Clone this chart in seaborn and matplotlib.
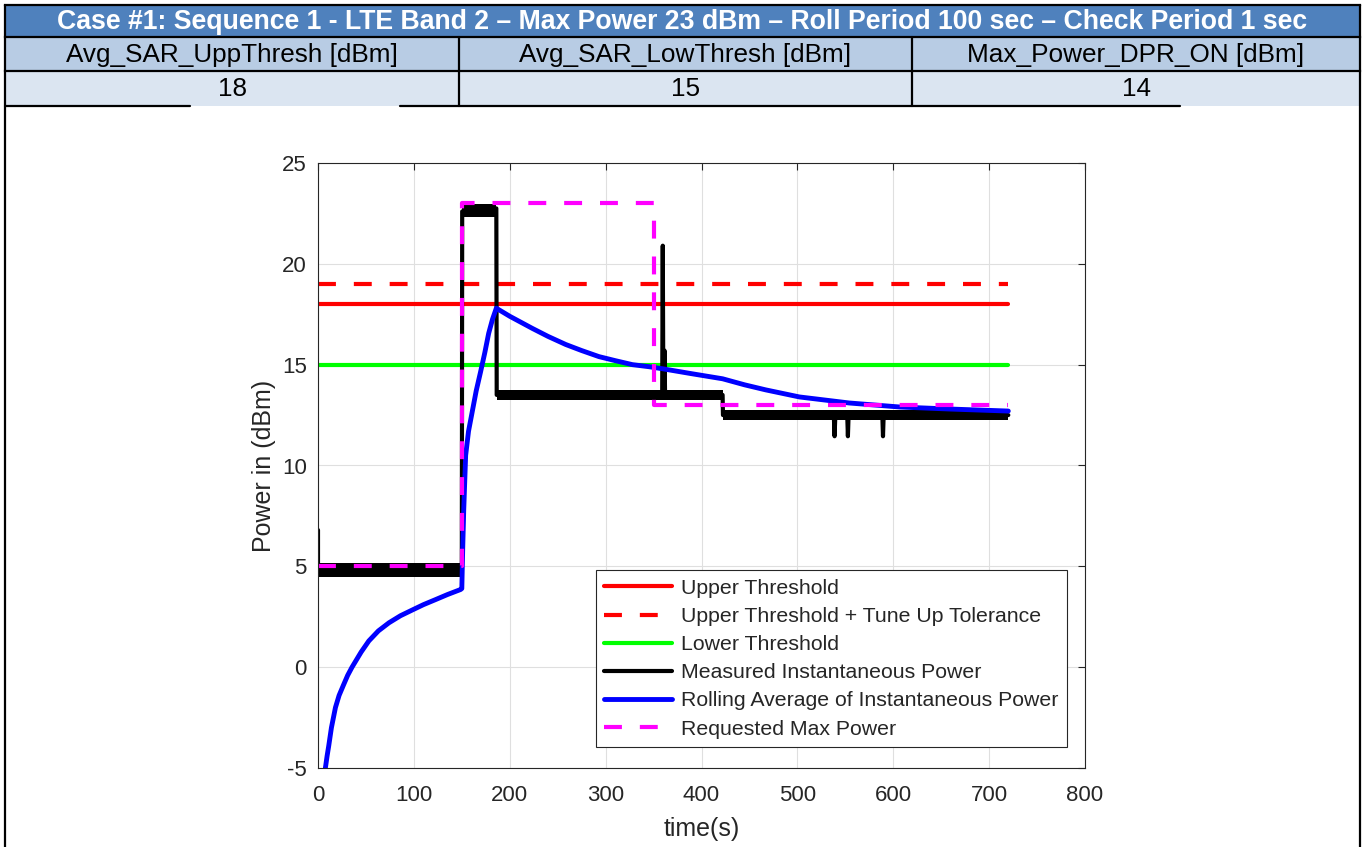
import matplotlib
matplotlib.use('Agg')
import matplotlib.pyplot as plt
import seaborn as sns
from matplotlib.patches import Rectangle

# table content
title_text = 'Case #1: Sequence 1 - LTE Band 2 \u2013 Max Power 23 dBm \u2013 Roll Period 100 sec \u2013 Check Period 1 sec'
col_names = ['Avg_SAR_UppThresh [dBm]', 'Avg_SAR_LowThresh [dBm]', 'Max_Power_DPR_ON [dBm]']
col_values = ['18', '15', '14']

# threshold lines
thr_t = [0, 720]
upper_thr = [18, 18]
upper_tol = [19, 19]
lower_thr = [15, 15]

# measured instantaneous power
meas_t = [0, 0, 0.5, 150, 150.4, 186, 186.4, 359, 359.6, 360.2, 361, 361.4, 362, 422, 422.4,
          538, 538.8, 539.6, 552, 552.7, 553.4, 588.6, 589.3, 590, 720]
meas_p = [6.8, 4.6, 4.8, 4.8, 22.6, 22.75, 13.5, 13.5, 20.9, 13.5, 13.5, 15.7, 13.5, 13.5, 12.5,
          12.5, 11.45, 12.5, 12.5, 11.45, 12.5, 12.5, 11.45, 12.5, 12.5]

# noise band of the measured power
band_start = [0, 150.6, 186.6, 422.6]
band_end = [150, 186, 422, 720]
band_low = [4.45, 22.3, 13.25, 12.25]
band_high = [5.15, 22.95, 13.75, 12.75]

# rolling average
roll_t = [7.7, 9.5, 11.2, 14, 18.2, 22, 26.8, 31, 35.5, 45, 53, 63, 74, 86, 99, 110, 122.6, 135, 148.7,
          150, 151, 152, 154, 157, 161, 165, 169.6, 174, 178, 182, 186, 200, 223.5, 240, 258.4, 275, 293,
          310, 328, 345, 359, 390, 422, 445, 467, 502, 554, 607, 659, 720]
roll_p = [-5, -4.4, -3.9, -3.0, -2.0, -1.4, -0.86, -0.4, 0.0, 0.75, 1.3, 1.8, 2.2, 2.55, 2.85, 3.1, 3.35,
          3.6, 3.85, 3.9, 6.0, 7.8, 10.5, 11.7, 12.7, 13.7, 14.65, 15.6, 16.55, 17.25, 17.8, 17.4, 16.8,
          16.4, 16.0, 15.7, 15.4, 15.2, 15.0, 14.9, 14.8, 14.55, 14.3, 14.0, 13.75, 13.4, 13.1, 12.9,
          12.8, 12.7]

# requested max power
req_t = [0, 150, 150, 350, 350, 720]
req_p = [5, 5, 23, 23, 13, 13]

sns.set_theme(style='whitegrid')
plt.rcParams['font.family'] = ['Liberation Sans', 'DejaVu Sans']
plt.rcParams['axes.unicode_minus'] = False

W, H = 1366, 847
fig = plt.figure(figsize=(W / 100, H / 100), dpi=100)
fig.patch.set_facecolor('white')

# background layer in pixel units for the table
bg = fig.add_axes([0, 0, 1, 1], zorder=0)
bg.set_xlim(0, W)
bg.set_ylim(H, 0)
bg.axis('off')

x0, x1 = 5, 1360
c1, c2 = 459, 912
r0, r1, r2, r3 = 5, 37, 71, 106
bg.add_patch(Rectangle((x0, r0), x1 - x0, r1 - r0, facecolor='#4f81bd', edgecolor='none'))
bg.add_patch(Rectangle((x0, r1), x1 - x0, r2 - r1, facecolor='#b8cce4', edgecolor='none'))
bg.add_patch(Rectangle((x0, r2), x1 - x0, r3 - r2, facecolor='#dbe5f1', edgecolor='none'))
blw = 1.6
for yy in [r0, r1, r2]:
    bg.plot([x0, x1], [yy, yy], color='black', lw=blw, solid_capstyle='projecting')
bg.plot([x0, 190], [r3, r3], color='black', lw=blw)
bg.plot([400, 1180], [r3, r3], color='black', lw=blw)
bg.plot([x0, x0], [r0, H], color='black', lw=blw)
bg.plot([x1, x1], [r0, H], color='black', lw=blw)
for xx in [c1, c2]:
    bg.plot([xx, xx], [r1, r3], color='black', lw=blw)

bg.text((x0 + x1) / 2, (r0 + r1) / 2 + 1, title_text, color='white', fontsize=19.2, fontweight='bold',
        ha='center', va='center')
centers = [(x0 + c1) / 2, (c1 + c2) / 2, (c2 + x1) / 2]
for cx, name, val in zip(centers, col_names, col_values):
    bg.text(cx, (r1 + r2) / 2 + 1, name, fontsize=18.8, ha='center', va='center', color='black')
    bg.text(cx, (r2 + r3) / 2 + 1, val, fontsize=18.8, ha='center', va='center', color='black')

# main chart
ax = fig.add_axes([318 / W, (H - 768) / H, 767 / W, 605 / H], zorder=2)
ax.set_facecolor('white')

dash = (0, (4.3, 4.3))
sns.lineplot(x=thr_t, y=upper_thr, ax=ax, color='#ff0000', lw=3, label='Upper Threshold')
sns.lineplot(x=thr_t, y=upper_tol, ax=ax, color='#ff0000', lw=3, linestyle=dash,
             label='Upper Threshold + Tune Up Tolerance')
sns.lineplot(x=thr_t, y=lower_thr, ax=ax, color='#00ff00', lw=3, label='Lower Threshold')
for s, e, lo, hi in zip(band_start, band_end, band_low, band_high):
    ax.fill_between([s, e], [lo, lo], [hi, hi], color='black', lw=0, zorder=1.9)
sns.lineplot(x=meas_t, y=meas_p, ax=ax, color='black', lw=3, sort=False, estimator=None,
             label='Measured Instantaneous Power')
sns.lineplot(x=roll_t, y=roll_p, ax=ax, color='#0000ff', lw=3.5, sort=False, estimator=None,
             label='Rolling Average of Instantaneous Power')
sns.lineplot(x=req_t, y=req_p, ax=ax, color='#ff00ff', lw=3, linestyle=dash, sort=False, estimator=None,
             label='Requested Max Power')

ax.set_xlim(0, 800)
ax.set_ylim(-5, 25)
ax.set_xticks(range(0, 801, 100))
ax.set_yticks(range(-5, 26, 5))
ax.grid(True, color='#dfdfdf', lw=0.8)
for sp in ax.spines.values():
    sp.set_visible(True)
    sp.set_color('#262626')
    sp.set_linewidth(0.8)
ax.tick_params(axis='both', direction='in', length=5, width=0.8, color='#262626',
               labelcolor='#262626', labelsize=16, top=True, right=True)
ax.tick_params(axis='x', pad=12)
ax.tick_params(axis='y', pad=8)
ax.set_xlabel('time(s)', fontsize=18, color='#262626', labelpad=8)
ax.set_ylabel('Power in (dBm)', fontsize=18, color='#262626', labelpad=4.5)

leg = ax.legend(loc='lower right', bbox_to_anchor=(0.9765, 0.0347), fontsize=15.3, frameon=True,
                fancybox=False, framealpha=1, edgecolor='#262626', handlelength=3.2,
                handletextpad=0.42, borderpad=0.4, labelspacing=0.43, borderaxespad=0)
leg.get_frame().set_linewidth(0.8)
for t in leg.get_texts():
    t.set_color('#262626')

fig.savefig('out.png', dpi=100)
